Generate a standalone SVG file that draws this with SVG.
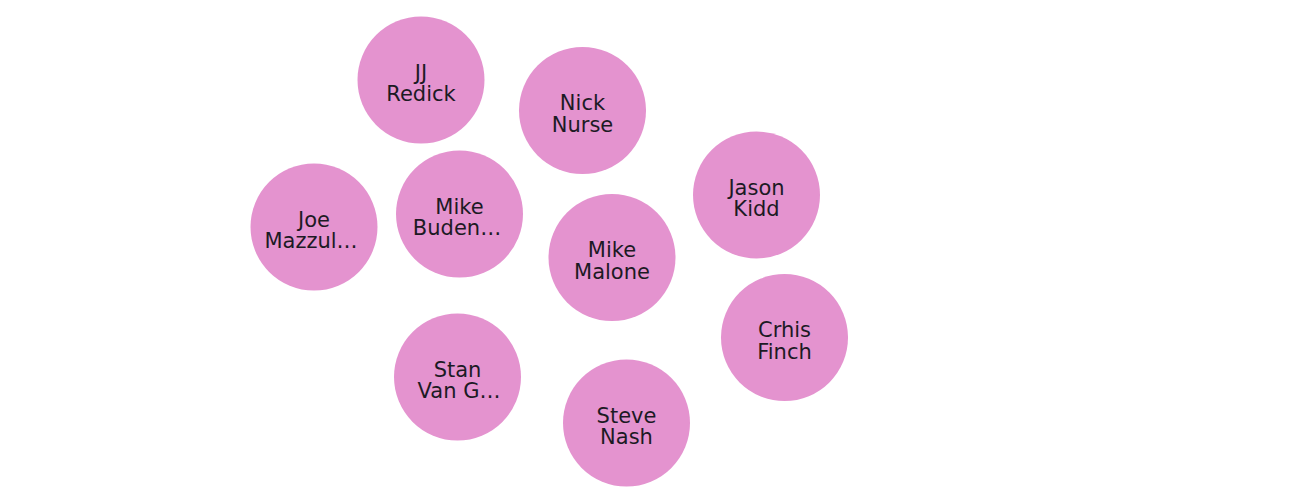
<svg xmlns="http://www.w3.org/2000/svg" width="1306" height="498" viewBox="0 0 1306 498">
<style>
.n circle{fill:#E493CF}
.n text{font-family:"DejaVu Sans",sans-serif;font-size:21px;fill:#1c1a24;text-anchor:middle}
</style>
<rect width="1306" height="498" fill="#fff"/>
<g id="connectors"></g>
<g id="jj-redick" class="n"><circle cx="421" cy="80" r="63.5"/><text x="421" y="79.5">JJ</text><text x="421" y="101">Redick</text></g>
<g id="nick-nurse" class="n"><circle cx="582.5" cy="110.5" r="63.5"/><text x="582.5" y="110">Nick</text><text x="582.5" y="131.5">Nurse</text></g>
<g id="jason-kidd" class="n"><circle cx="756.5" cy="195" r="63.5"/><text x="756.5" y="194.5">Jason</text><text x="756.5" y="216">Kidd</text></g>
<g id="joe-mazzulla" class="n"><circle cx="314" cy="227" r="63.5"/><text x="314" y="226.5">Joe</text><text x="311" y="248">Mazzul…</text></g>
<g id="mike-budenholzer" class="n"><circle cx="459.5" cy="214" r="63.5"/><text x="459.5" y="213.5">Mike</text><text x="457" y="235">Buden…</text></g>
<g id="mike-malone" class="n"><circle cx="612" cy="257.5" r="63.5"/><text x="612" y="257">Mike</text><text x="612" y="278.5">Malone</text></g>
<g id="chris-finch" class="n"><circle cx="784.5" cy="337.5" r="63.5"/><text x="784.5" y="337">Crhis</text><text x="784.5" y="358.5">Finch</text></g>
<g id="stan-van-gundy" class="n"><circle cx="457.5" cy="377" r="63.5"/><text x="457.5" y="376.5">Stan</text><text x="459" y="398">Van G…</text></g>
<g id="steve-nash" class="n"><circle cx="626.5" cy="423" r="63.5"/><text x="626.5" y="422.5">Steve</text><text x="626.5" y="444">Nash</text></g>
</svg>
